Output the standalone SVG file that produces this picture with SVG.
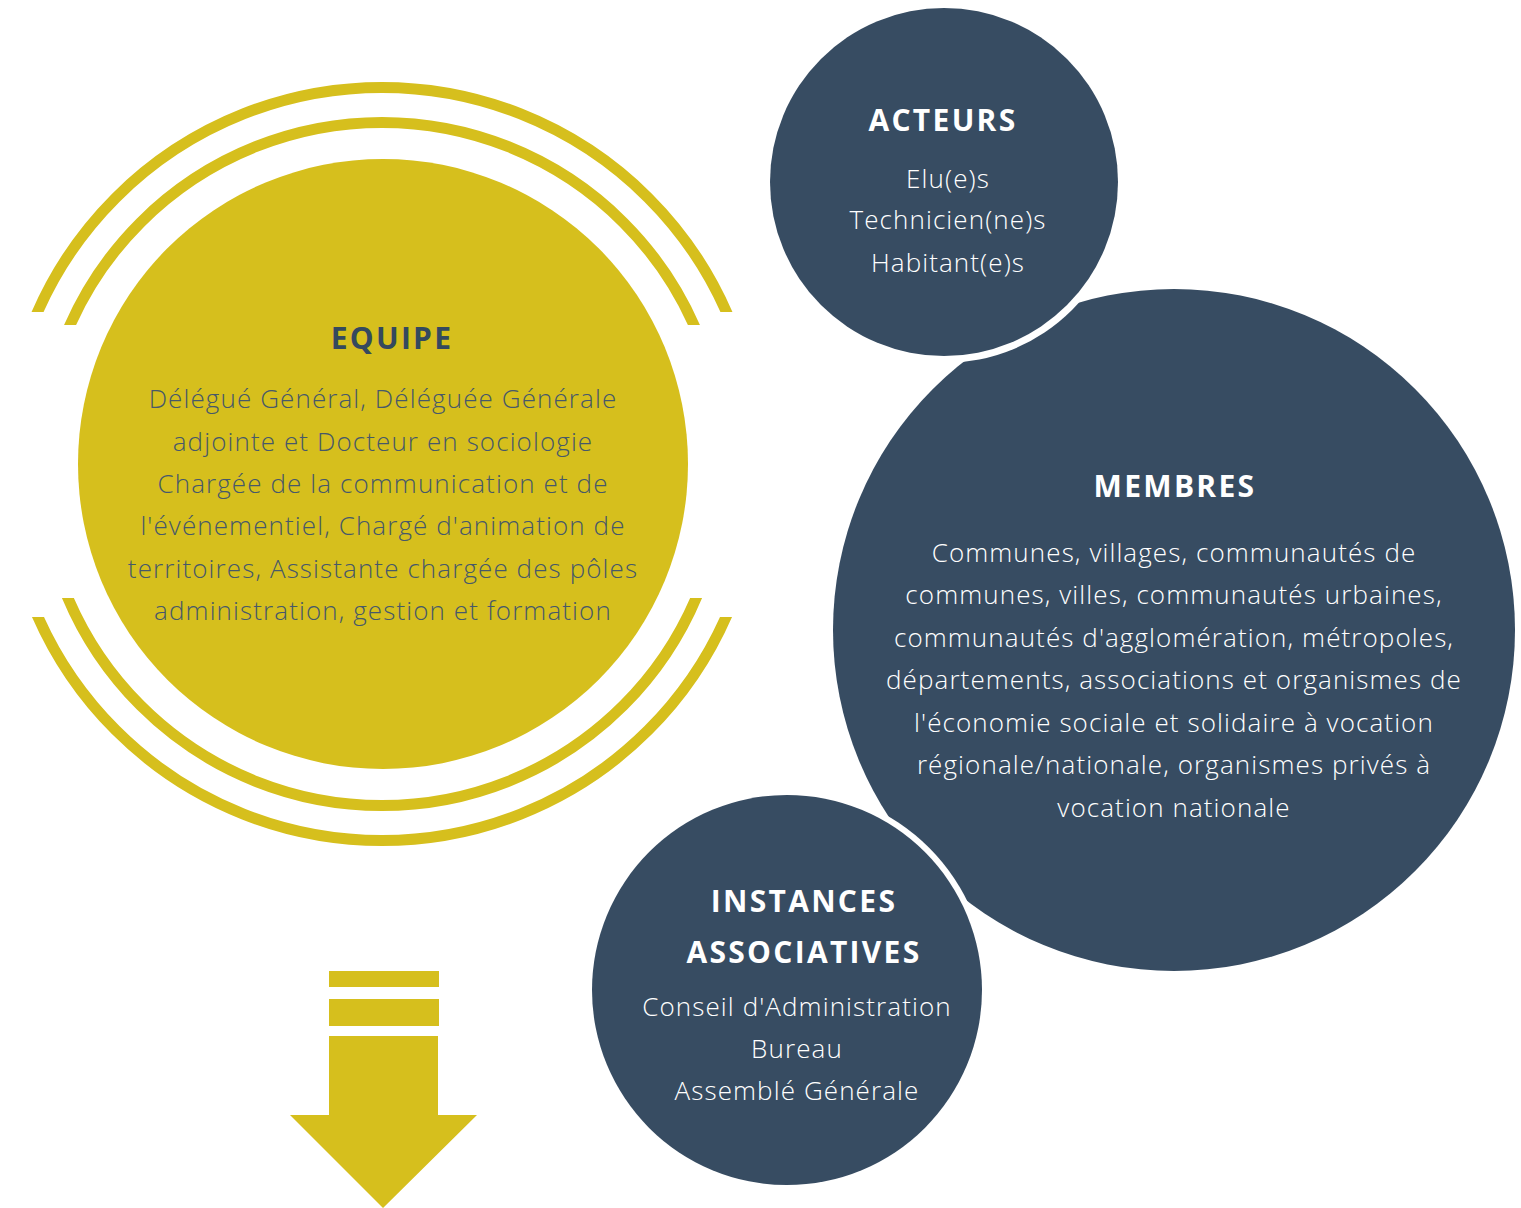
<svg xmlns="http://www.w3.org/2000/svg" width="1521" height="1208" viewBox="0 0 1521 1208">
<style>
.yel{fill:#D6BF1D}
.blue{fill:#374C62}
.ring{fill:none;stroke:#D6BF1D;stroke-width:11}
.gap{fill:#FFFFFF}
.t{font-family:"Open Sans","Liberation Sans",sans-serif;font-weight:700;font-size:30px;letter-spacing:2.3px;text-anchor:middle}
.b{font-family:"Open Sans","Liberation Sans",sans-serif;font-weight:300;font-size:26px;letter-spacing:1.1px;text-anchor:middle}
.dk{fill:#34495E}
.dkb{fill:#46586A}
.wh{fill:#FFFFFF}
</style>
<defs>
<clipPath id="clipOuter"><rect x="0" y="0" width="800" height="312"/><rect x="0" y="617" width="800" height="400"/></clipPath>
<clipPath id="clipInner"><rect x="0" y="0" width="800" height="325"/><rect x="0" y="598" width="800" height="400"/></clipPath>
</defs>
<g id="equipe">
<circle class="ring" cx="382" cy="464" r="376.5" clip-path="url(#clipOuter)"/>
<circle class="ring" cx="382" cy="464" r="341.5" clip-path="url(#clipInner)"/>
<circle class="yel" cx="383" cy="464" r="305"/>
<text class="t dk" x="392" y="349">EQUIPE</text>
<text class="b dkb" x="383" y="408">Délégué Général, Déléguée Générale</text>
<text class="b dkb" x="383" y="451">adjointe et Docteur en sociologie</text>
<text class="b dkb" x="383" y="493">Chargée de la communication et de</text>
<text class="b dkb" x="383" y="535">l'événementiel, Chargé d'animation de</text>
<text class="b dkb" x="383" y="578">territoires, Assistante chargée des pôles</text>
<text class="b dkb" x="383" y="620">administration, gestion et formation</text>
</g>
<g id="membres">
<circle class="blue" cx="1174" cy="630" r="341"/>
<text class="t wh" x="1175" y="497">MEMBRES</text>
<text class="b wh" x="1174" y="562">Communes, villages, communautés de</text>
<text class="b wh" x="1174" y="604">communes, villes, communautés urbaines,</text>
<text class="b wh" x="1174" y="647">communautés d'agglomération, métropoles,</text>
<text class="b wh" x="1174" y="689">départements, associations et organismes de</text>
<text class="b wh" x="1174" y="732">l'économie sociale et solidaire à vocation</text>
<text class="b wh" x="1174" y="774">régionale/nationale, organismes privés à</text>
<text class="b wh" x="1174" y="817">vocation nationale</text>
</g>
<g id="acteurs">
<circle class="gap" cx="944" cy="182" r="181"/>
<circle class="blue" cx="944" cy="182" r="174"/>
<text class="t wh" x="943" y="131">ACTEURS</text>
<text class="b wh" x="948" y="188">Elu(e)s</text>
<text class="b wh" x="948" y="229">Technicien(ne)s</text>
<text class="b wh" x="948" y="272">Habitant(e)s</text>
</g>
<g id="instances">
<circle class="gap" cx="787" cy="990" r="201"/>
<circle class="blue" cx="787" cy="990" r="195"/>
<text class="t wh" x="804" y="912">INSTANCES</text>
<text class="t wh" x="804" y="963">ASSOCIATIVES</text>
<text class="b wh" x="797" y="1016">Conseil d'Administration</text>
<text class="b wh" x="797" y="1058">Bureau</text>
<text class="b wh" x="797" y="1100">Assemblé Générale</text>
</g>
<g id="connectors">
<g id="arrow" class="yel">
<rect x="329" y="971" width="110" height="16"/>
<rect x="329" y="999" width="110" height="27"/>
<polygon points="329,1036 438,1036 438,1115 477,1115 383,1208 290,1115 329,1115"/>
</g>
</g>
</svg>
